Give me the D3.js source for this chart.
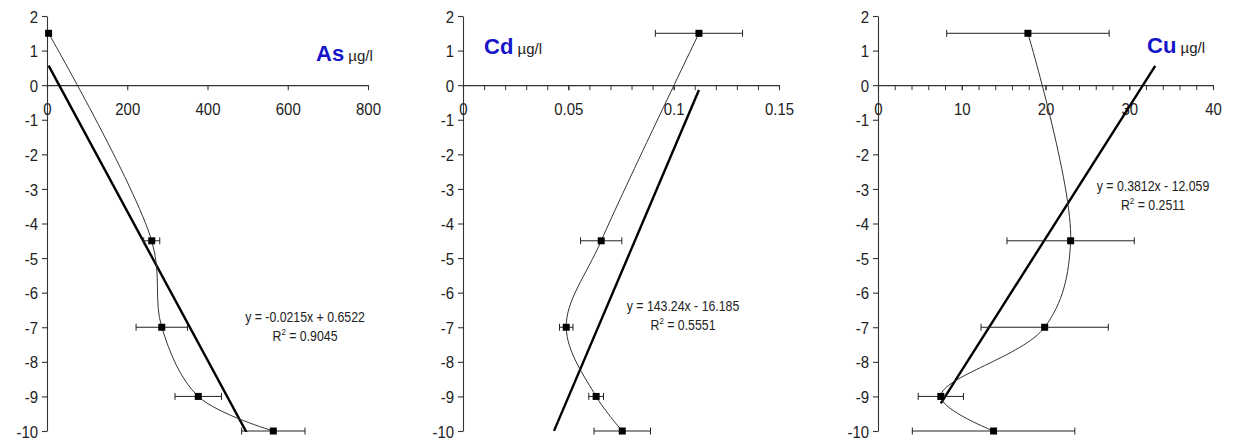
<!DOCTYPE html>
<html>
<head>
<meta charset="utf-8">
<script src="https://cdn.jsdelivr.net/npm/d3@7"></script>
<style>
  html, body { margin: 0; padding: 0; background: #fff; }
  svg { display: block; }
  text { font-family: "Liberation Sans", Arial, sans-serif; fill: #222; }
</style>
</head>
<body>
<svg id="chart" width="1238" height="443"></svg>
<script>
// Depth of each sample (m) shared by the three profiles
const depths = [1.5, -4.5, -7, -9, -10];
const depthTicks = [2, 1, 0, -1, -2, -3, -4, -5, -6, -7, -8, -9, -10];

// Arsenic (µg/l): mean concentration and error half-width
const asValues = [4, 261, 286, 377, 564];
const asErr    = [0, 20, 64, 58, 79];
const asTicks  = [0, 200, 400, 600, 800];
const asTrend  = { slope: -0.0215, intercept: 0.6522, r2: "0.9045", from: 4, to: 564 };

// Cadmium (µg/l)
const cdValues = [0.112, 0.0656, 0.049, 0.0632, 0.0756];
const cdErr    = [0.0207, 0.0098, 0.0032, 0.0035, 0.0134];
const cdTicks  = [0, 0.05, 0.1, 0.15];
const cdMinor  = d3.range(0, 0.1501, 0.01);
const cdTrend  = { slope: 143.24, intercept: -16.185, r2: "0.5551", from: 0.0432, to: 0.112 };

// Copper (µg/l)
const cuValues = [17.9, 23.0, 19.9, 7.5, 13.8];
const cuErr    = [9.7, 7.6, 7.6, 2.7, 9.7];
const cuTicks  = [0, 10, 20, 30, 40];
const cuMinor  = d3.range(0, 40.01, 2);
const cuTrend  = { slope: 0.3812, intercept: -12.059, r2: "0.2511", from: 7.5, to: 33.1 };

const svg = d3.select("#chart");
const SX = 0.88; // narrow glyph scaling for the small labels

const y = d3.scaleLinear().domain([2, -10]).range([16, 431]);

const panels = [
  { name: "As", values: asValues, err: asErr, ticks: asTicks, minor: null, max: 800,
    left: 47, right: 368, trend: asTrend, fmt: d3.format("d"),
    title: { x: 316, y: 61 }, eq: { x: 305, y: 322 },
    eqText: "y = -0.0215x + 0.6522" },
  { name: "Cd", values: cdValues, err: cdErr, ticks: cdTicks, minor: cdMinor, max: 0.15,
    left: 463, right: 779, trend: cdTrend, fmt: d => d === 0 ? "0" : String(+d.toFixed(2)),
    title: { x: 484, y: 54 }, eq: { x: 683, y: 311 },
    eqText: "y = 143.24x - 16.185" },
  { name: "Cu", values: cuValues, err: cuErr, ticks: cuTicks, minor: cuMinor, max: 40,
    left: 878, right: 1213, trend: cuTrend, fmt: d3.format("d"),
    title: { x: 1147, y: 53 }, eq: { x: 1153, y: 191 },
    eqText: "y = 0.3812x - 12.059" }
];

panels.forEach((p, i) => {
  const x = d3.scaleLinear().domain([0, p.max]).range([p.left, p.right]);
  const g = svg.append("g");

  const clipId = "clip" + i;
  svg.append("clipPath").attr("id", clipId)
    .append("rect")
    .attr("x", p.left - 2).attr("y", y(2))
    .attr("width", p.right - p.left + 4).attr("height", y(-10) - y(2) + 1);

  // depth axis
  const yAxis = g.append("g")
    .attr("transform", `translate(${p.left},0)`)
    .call(d3.axisLeft(y).tickValues(depthTicks).tickSize(5).tickSizeOuter(0).tickPadding(4)
      .tickFormat(d => d));
  // concentration axis along depth 0
  const xAxis = g.append("g")
    .attr("transform", `translate(0,${y(0)})`)
    .call(d3.axisBottom(x).tickValues(p.ticks).tickSize(5).tickSizeOuter(0).tickPadding(13)
      .tickFormat(p.fmt));
  if (p.minor) {
    g.append("g")
      .attr("transform", `translate(0,${y(0)})`)
      .call(d3.axisBottom(x).tickValues(p.minor).tickSize(5).tickSizeOuter(0).tickFormat(""))
      .select(".domain").remove();
  }
  [yAxis, xAxis].forEach(a => {
    a.selectAll(".domain, line").attr("stroke", "#333").attr("stroke-width", 1.1);
    a.selectAll("text")
      .attr("font-size", 17)
      .attr("font-family", "Liberation Sans, Arial, sans-serif")
      .attr("fill", "#333")
      .attr("transform", `scale(${SX},1)`);
  });
  g.selectAll(".tick line").attr("stroke", "#333");
  yAxis.selectAll("text").attr("x", -9 / SX).attr("dy", "0.36em");

  // trend line
  const t = p.trend;
  g.append("line")
    .attr("clip-path", `url(#${clipId})`)
    .attr("x1", x(t.from)).attr("y1", y(t.slope * t.from + t.intercept))
    .attr("x2", x(t.to)).attr("y2", y(t.slope * t.to + t.intercept))
    .attr("stroke", "#000").attr("stroke-width", 2.4);

  // smoothed profile through the sample means
  const pts = p.values.map((v, k) => [x(v), y(depths[k])]);
  g.append("path")
    .attr("d", d3.line().curve(d3.curveCatmullRom.alpha(0.5))(pts))
    .attr("fill", "none").attr("stroke", "#333").attr("stroke-width", 1);

  // horizontal error bars
  const eb = g.append("g").attr("stroke", "#222").attr("stroke-width", 1);
  p.values.forEach((v, k) => {
    if (!p.err[k]) return;
    const yy = y(depths[k]);
    const x1 = x(v - p.err[k]), x2 = x(v + p.err[k]);
    eb.append("line").attr("x1", x1).attr("x2", x2).attr("y1", yy).attr("y2", yy);
    eb.append("line").attr("x1", x1).attr("x2", x1).attr("y1", yy - 3.5).attr("y2", yy + 3.5);
    eb.append("line").attr("x1", x2).attr("x2", x2).attr("y1", yy - 3.5).attr("y2", yy + 3.5);
  });

  // markers
  g.selectAll("rect.m").data(p.values).join("rect")
    .attr("class", "m")
    .attr("x", v => x(v) - 3.5).attr("y", (v, k) => y(depths[k]) - 3.5)
    .attr("width", 7).attr("height", 7).attr("fill", "#000");

  // element name with unit
  const title = g.append("text")
    .attr("x", p.title.x).attr("y", p.title.y);
  title.append("tspan").text(p.name)
    .attr("font-size", 22).attr("font-weight", "bold").attr("fill", "#1414c8")
    .style("fill", "#1414c8");
  title.append("tspan").text(" µg/l")
    .attr("font-size", 15).attr("fill", "#222");

  // regression equation
  const eq = g.append("g").attr("transform", `translate(${p.eq.x},${p.eq.y}) scale(${SX},1)`);
  eq.append("text").attr("text-anchor", "middle").attr("font-size", 14).attr("fill", "#333")
    .text(p.eqText);
  const r2 = eq.append("text").attr("text-anchor", "middle").attr("y", 19)
    .attr("font-size", 14).attr("fill", "#333");
  r2.append("tspan").text("R");
  r2.append("tspan").text("2").attr("font-size", 9).attr("dy", -6);
  r2.append("tspan").text(" = " + t.r2).attr("dy", 6);
});
</script>
</body>
</html>
